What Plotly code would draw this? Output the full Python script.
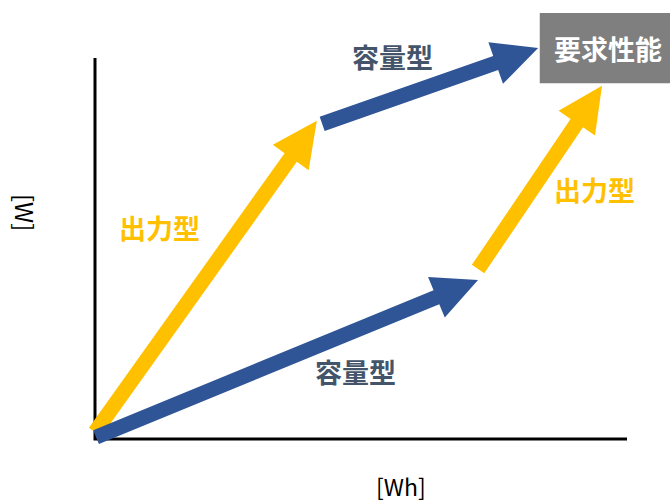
import numpy as np
import plotly.graph_objects as go

# Diagram units: both axes run from 0 to 10 (arbitrary Wh / W scale)
axis_x = [0, 0, 10]
axis_y = [10, 0, 0]

# Arrows: tail and tip of each block arrow
arrow_kind = ["power", "capacity", "capacity", "power"]
arrow_x0 = [0.00, 4.27, 0.02, 7.20]
arrow_y0 = [0.18, 8.27, 0.05, 4.46]
arrow_x1 = [4.17, 8.33, 7.20, 9.53]
arrow_y1 = [8.35, 10.26, 4.17, 9.27]

# Arrow labels
label_text = ["出力型", "容量型", "容量型", "出力型"]
label_x = [1.22, 5.60, 4.89, 9.38]
label_y = [5.55, 10.03, 1.76, 6.56]

# Target box ("要求性能")
target_text = "要求性能"
target_x = [8.36, 11.2]
target_y = [9.34, 11.18]

axis_title_x = "[Wh]"
axis_title_y = "[W]"

W, H = 670, 504
# pixel placement of the diagram origin and unit lengths
ORIGIN_PX = (95.0, 439.0)
UNIT_PX = (53.2, 38.1)

COLORS = {"power": "#FFC000", "capacity": "#2F5597"}
TEXT_COLORS = {"power": "#FFC000", "capacity": "#44546A"}
FONT = "Noto Sans CJK JP"

x_range = [-ORIGIN_PX[0] / UNIT_PX[0], (W - ORIGIN_PX[0]) / UNIT_PX[0]]
y_range = [(ORIGIN_PX[1] - H) / UNIT_PX[1], ORIGIN_PX[1] / UNIT_PX[1]]


def to_px(x, y):
    return np.array([ORIGIN_PX[0] + x * UNIT_PX[0], ORIGIN_PX[1] - y * UNIT_PX[1]])


def to_data(p):
    return (p[0] - ORIGIN_PX[0]) / UNIT_PX[0], (ORIGIN_PX[1] - p[1]) / UNIT_PX[1]


def block_arrow(x0, y0, x1, y1, shaft=15.0, head_w=44.0, head_l=45.0):
    """Outline of a straight block arrow, built in screen space."""
    p0, p1 = to_px(x0, y0), to_px(x1, y1)
    d = p1 - p0
    u = d / np.linalg.norm(d)
    n = np.array([-u[1], u[0]])
    base = p1 - u * head_l
    pts = [
        p0 + n * shaft / 2,
        base + n * shaft / 2,
        base + n * head_w / 2,
        p1,
        base - n * head_w / 2,
        base - n * shaft / 2,
        p0 - n * shaft / 2,
        p0 + n * shaft / 2,
    ]
    xs, ys = zip(*[to_data(p) for p in pts])
    return list(xs), list(ys)


fig = go.Figure()

# axes drawn as an L-shaped line
fig.add_trace(go.Scatter(x=axis_x, y=axis_y, mode="lines",
                         line=dict(color="black", width=3),
                         hoverinfo="skip", showlegend=False))

# yellow arrows first, blue arrows on top
order = [i for i, k in enumerate(arrow_kind) if k == "power"] + \
        [i for i, k in enumerate(arrow_kind) if k == "capacity"]
for i in order:
    xs, ys = block_arrow(arrow_x0[i], arrow_y0[i], arrow_x1[i], arrow_y1[i])
    fig.add_trace(go.Scatter(x=xs, y=ys, mode="lines", fill="toself",
                             fillcolor=COLORS[arrow_kind[i]],
                             line=dict(width=0, color=COLORS[arrow_kind[i]]),
                             hoverinfo="skip", showlegend=False))

annotations = []
for t, x, y, k in zip(label_text, label_x, label_y, arrow_kind):
    annotations.append(dict(x=x, y=y, xref="x", yref="y", text=t, showarrow=False,
                            font=dict(family=FONT, size=27, color=TEXT_COLORS[k], weight="bold")))

# label inside the target box (box runs to the right edge of the figure)
annotations.append(dict(x=(target_x[0] + x_range[1]) / 2 + 0.05, y=sum(target_y) / 2, xref="x", yref="y",
                        text=target_text, showarrow=False,
                        font=dict(family=FONT, size=27, color="white", weight="bold")))

# axis titles
annotations.append(dict(x=(401 - ORIGIN_PX[0]) / UNIT_PX[0], y=(ORIGIN_PX[1] - 486) / UNIT_PX[1],
                        xref="x", yref="y", text=axis_title_x, showarrow=False,
                        font=dict(family=FONT, size=23, color="black")))
annotations.append(dict(x=(26 - ORIGIN_PX[0]) / UNIT_PX[0], y=(ORIGIN_PX[1] - 212) / UNIT_PX[1],
                        xref="x", yref="y", text=axis_title_y, showarrow=False, textangle=90,
                        font=dict(family=FONT, size=24, color="black")))

fig.update_layout(
    width=W, height=H, autosize=False,
    margin=dict(l=0, r=0, t=0, b=0, pad=0),
    paper_bgcolor="white", plot_bgcolor="white",
    xaxis=dict(range=x_range, visible=False, fixedrange=True),
    yaxis=dict(range=y_range, visible=False, fixedrange=True),
    shapes=[dict(type="rect", xref="x", yref="y",
                 x0=target_x[0], x1=target_x[1], y0=target_y[0], y1=target_y[1],
                 fillcolor="#7F7F7F", line=dict(width=0), layer="above")],
    annotations=annotations,
)

fig.write_html("out.html")
